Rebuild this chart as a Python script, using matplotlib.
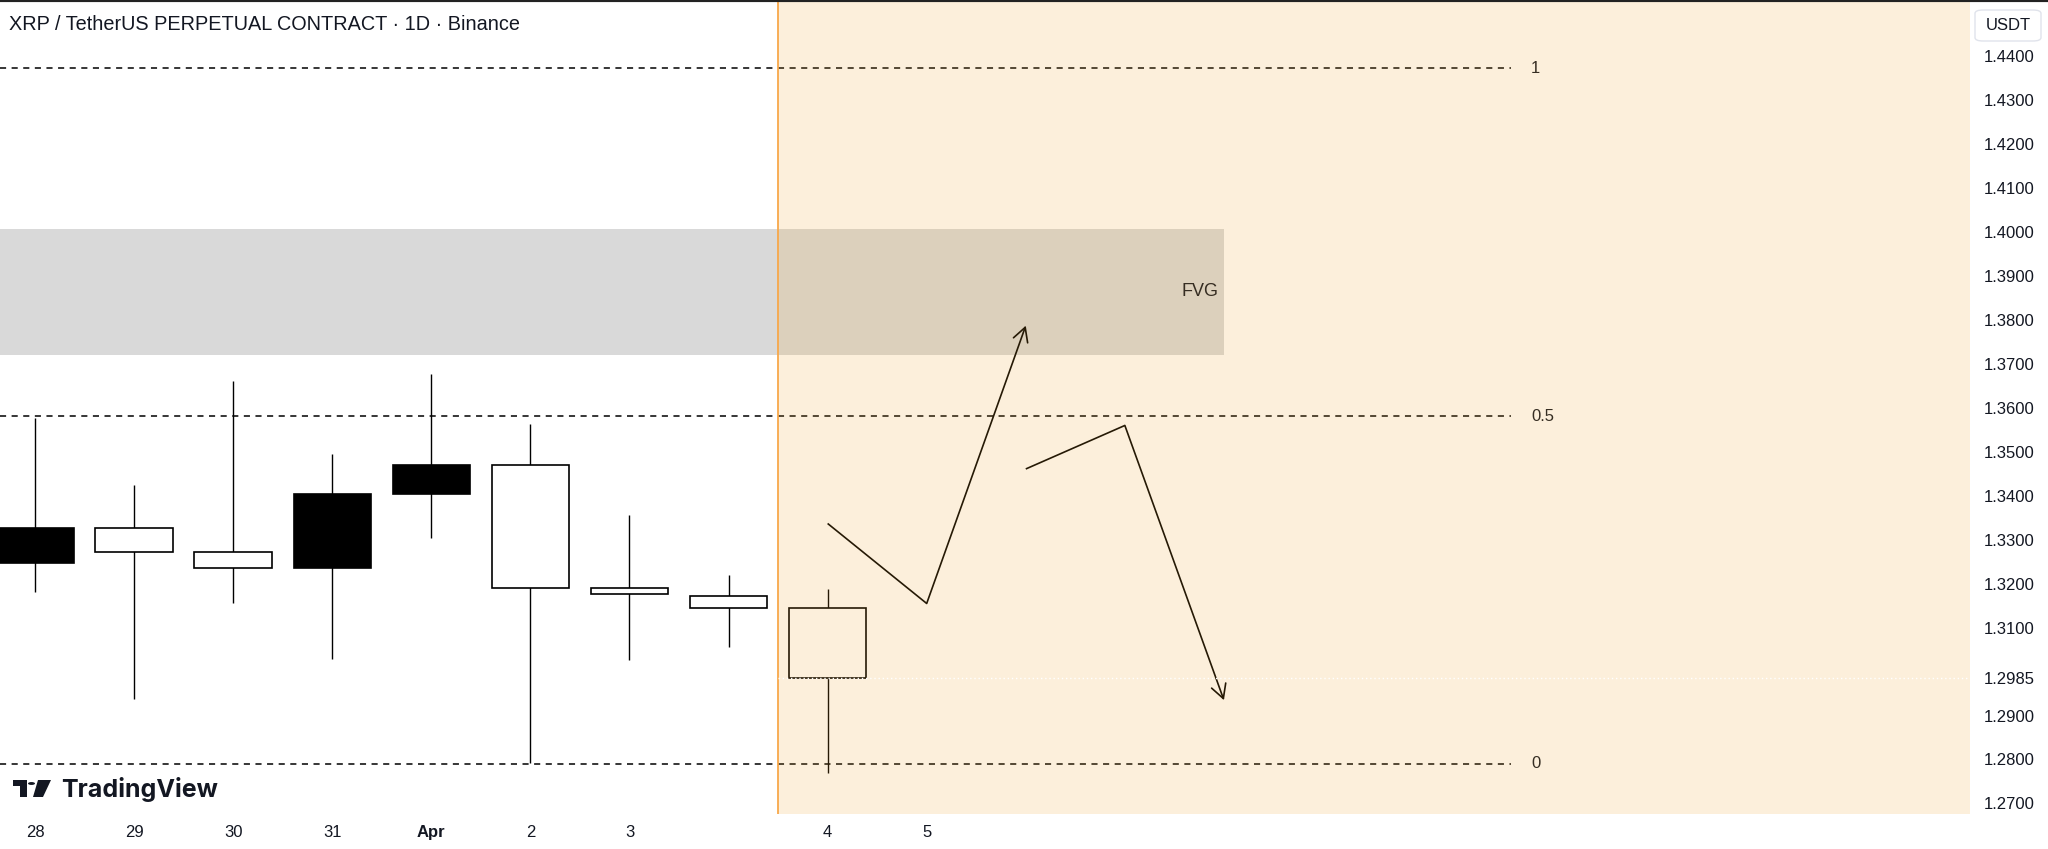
import matplotlib
matplotlib.use("Agg")
import matplotlib.pyplot as plt
from matplotlib.patches import Rectangle, FancyBboxPatch, Polygon, Circle, FancyArrowPatch
from matplotlib.lines import Line2D

plt.rcParams['font.family'] = ['Liberation Sans', 'DejaVu Sans']

# daily candles (index 0 = Mar 28)
opens = [1.3248, 1.3326, 1.3271, 1.3235, 1.3404, 1.3471, 1.3190, 1.3173, 1.3144]
closes = [1.3326, 1.3271, 1.3235, 1.3404, 1.3471, 1.3190, 1.3176, 1.3144, 1.2985]
highs = [1.3576, 1.3424, 1.3662, 1.3496, 1.3678, 1.3563, 1.3356, 1.3220, 1.3189]
lows = [1.3182, 1.2937, 1.3157, 1.3028, 1.3305, 1.2791, 1.3026, 1.3055, 1.2770]

tick_pos = [0, 1, 2, 3, 4, 5, 6, 8, 9]
tick_labels = ['28', '29', '30', '31', 'Apr', '2', '3', '4', '5']

price_ticks = [1.27, 1.28, 1.29, 1.2985, 1.31, 1.32, 1.33, 1.34, 1.35, 1.36,
               1.37, 1.38, 1.39, 1.40, 1.41, 1.42, 1.43, 1.44]
last_price = 1.2985

# fib levels
fib_levels = [1.4373, 1.3581, 1.2790]
fib_labels = ['1', '0.5', '0']

# FVG zone
fvg_top = 1.4008
fvg_bottom = 1.3721
fvg_end = 12

# projected paths
path1_x = [8, 9, 10]
path1_y = [1.3337, 1.3155, 1.3787]
path2_x = [10, 11, 12]
path2_y = [1.3461, 1.3560, 1.2935]

W, H = 2048, 849
fig = plt.figure(figsize=(W / 100, H / 100), dpi=100)
ax = fig.add_axes([0, (H - 814) / H, 1970 / W, 814 / H])
xmin, xmax = -0.353, 19.53
ax.set_xlim(xmin, xmax)
ax.set_ylim(1.2676, 1.4528)
for s in ax.spines.values():
    s.set_visible(False)

# FVG box
ax.add_patch(Rectangle((xmin - 1, fvg_bottom), fvg_end - xmin + 1, fvg_top - fvg_bottom,
                       facecolor='#d9d9d9', edgecolor='none', zorder=1))
ax.text(fvg_end - 0.05, (fvg_top + fvg_bottom) / 2, 'FVG', ha='right', va='center',
        fontsize=13, color='#131722', zorder=2)

# fib dashed lines
for lvl, lab in zip(fib_levels, fib_labels):
    ax.hlines(lvl, xmin, 14.9, colors='black', linestyles=(0, (4, 3.6)), lw=1.1, zorder=2)
    ax.text(15.1, lvl, lab, ha='left', va='center', fontsize=12, color='#131722', zorder=2)

# candles
for i in range(len(opens)):
    ax.vlines(i, lows[i], highs[i], colors='black', lw=1.0, zorder=3)
    lo = min(opens[i], closes[i])
    hgt = abs(closes[i] - opens[i])
    fc = 'black' if closes[i] > opens[i] else 'white'
    ax.add_patch(Rectangle((i - 0.39, lo), 0.78, hgt, facecolor=fc,
                           edgecolor='black', lw=1.2, zorder=4))

# projected paths with arrowheads
for px, py in [(path1_x, path1_y), (path2_x, path2_y)]:
    ax.plot(px[:-1], py[:-1], color='black', lw=1.2, zorder=4, solid_capstyle='butt')
    ax.add_patch(FancyArrowPatch((px[-2], py[-2]), (px[-1], py[-1]),
                                 arrowstyle='->,head_length=0.55,head_width=0.3',
                                 mutation_scale=18, color='black', lw=1.2,
                                 shrinkA=0, shrinkB=0, zorder=4))

# highlighted future region
ax.axvspan(7.5, xmax, facecolor=(237 / 255, 161 / 255, 37 / 255), alpha=0.16, lw=0, zorder=5)
ax.axvline(7.5, color='#f8a84a', lw=1.3, zorder=6)
ax.hlines(last_price, 7.5, xmax, colors='white', linestyles=(0, (1, 2)), lw=1, zorder=7)

# axes ticks
ax.set_xticks(tick_pos)
ax.set_xticklabels(tick_labels, fontsize=12, color='#131722')
for t in ax.get_xticklabels():
    if t.get_text() == 'Apr':
        t.set_fontweight('bold')
ax.tick_params(axis='x', length=0, pad=8)
ax.yaxis.tick_right()
ax.set_yticks(price_ticks)
ax.set_yticklabels(['%.4f' % p for p in price_ticks], fontsize=12, color='#131722')
ax.tick_params(axis='y', length=0, pad=10)

# title
fig.text(9 / W, 1 - 25 / H, 'XRP / TetherUS PERPETUAL CONTRACT \u00b7 1D \u00b7 Binance',
         fontsize=14.3, color='#131722', ha='left', va='center')

# USDT box
fig.add_artist(FancyBboxPatch((1975 / W, 1 - 41 / H), 66 / W, 31 / H,
                              boxstyle='round,pad=0,rounding_size=0.004',
                              transform=fig.transFigure, facecolor='white',
                              edgecolor='#e0e3eb', lw=1))
fig.text(2008 / W, 1 - 25 / H, 'USDT', fontsize=12, ha='center', va='center', color='#131722')

# TradingView logo
def fx(x):
    return x / W

def fy(y):
    return 1 - y / H

logo = '#131722'
fig.add_artist(Polygon([(fx(13), fy(780)), (fx(27), fy(780)), (fx(27), fy(797)),
                        (fx(20), fy(797)), (fx(20), fy(786)), (fx(13), fy(786))],
                       closed=True, transform=fig.transFigure, facecolor=logo, edgecolor='none'))
fig.add_artist(Circle((fx(31.5), fy(783.5)), 3.5 / W, transform=fig.transFigure,
                      facecolor=logo, edgecolor='none'))
fig.add_artist(Polygon([(fx(38), fy(780)), (fx(51), fy(780)), (fx(43), fy(797)), (fx(33), fy(797))],
                       closed=True, transform=fig.transFigure, facecolor=logo, edgecolor='none'))
fig.text(fx(61), fy(789), 'TradingView', fontsize=18, fontweight='bold', family=['Inter', 'DejaVu Sans'],
         color=logo, ha='left', va='center')

# screenshot frame top edge
fig.add_artist(Line2D([0, 1], [1, 1], transform=fig.transFigure, color='#222222', lw=3))

fig.savefig('out.png', dpi=100)
